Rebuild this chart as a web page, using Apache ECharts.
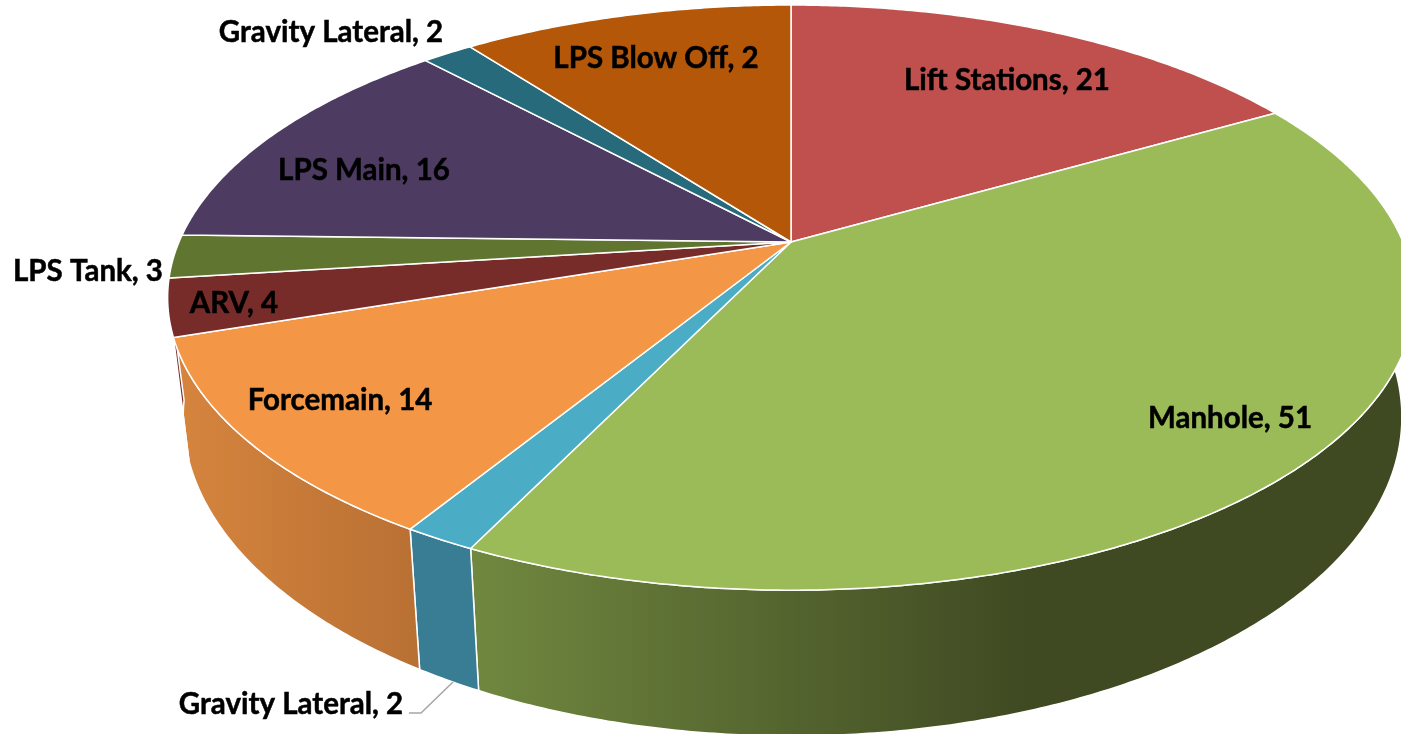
<!DOCTYPE html>
<html>
<head>
<meta charset="utf-8">
<style>
  html, body { margin: 0; padding: 0; background: #fff; }
  #chart { width: 1401px; height: 734px; }
</style>
<script src="https://cdn.jsdelivr.net/npm/echarts@6/dist/echarts.min.js"></script>
</head>
<body>
<div id="chart"></div>
<script>
  // going clockwise from 12 o'clock
  var categories = ['Lift Stations', 'Manhole', 'Gravity Lateral', 'Forcemain', 'ARV', 'LPS Tank', 'LPS Main', 'Gravity Lateral', 'LPS Blow Off'];
  // the number printed on each label
  var labelValues = [21, 51, 2, 14, 4, 3, 16, 2, 2];
  // size of each slice (the blow off slice is far bigger than its label says)
  var sliceValues = [21, 51, 2, 14, 4, 3, 16, 2, 13];

  var topColors = ['#c0504d', '#9bbb59', '#4bacc6', '#f39645', '#772c2a', '#5f7530', '#4d3b62', '#276a7c', '#b55708'];
  var wallColors = [
    ['#3f4922', '#3f4922'], ['#70883f', '#3f4922'], ['#397d94', '#397d94'], ['#d6853e', '#b87033'],
    ['#772c2a', '#772c2a'], null, null, null, null
  ];
  var labelAnchors = [[1007, 80], [1230, 418], [291, 704], [340, 400], [234, 303], [88, 271], [364, 170], [331, 32], [656, 58]];

  var total = sliceValues.reduce(function (a, b) { return a + b }, 0);

  // tilted disc: unit circle pushed through a simple perspective
  function project(deg, r, depth) {
    var a = deg * Math.PI / 180;
    var u = Math.sin(a) * r, v = -Math.cos(a) * r;
    var d = 1 - 0.19 * v;
    var x = 791 + 612 * u / d;
    var y = 242 + 282 * v / d;
    if (depth) {
      var dx = x < 791 ? (791 - x) * 0.025 : (791 - x) * 0.02;
      return [x + dx, y + 123 + (y - 337) * 0.09];
    }
    return [x, y];
  }

  function startDeg(i) {
    var sum = 0;
    for (var k = 0; k < i; k++) sum += sliceValues[k];
    return sum / total * 360;
  }

  function renderTop(params, api) {
    var i = params.dataIndex;
    var from = startDeg(i);
    var to = from + api.value(0) / total * 360;
    var pts = [project(0, 0, false)];
    for (var d = from; d < to; d += 0.5) pts.push(project(d, 1, false));
    pts.push(project(to, 1, false));
    return {
      type: 'group',
      children: [
        {
          type: 'polygon',
          shape: { points: pts },
          style: { fill: topColors[i], stroke: '#fff', lineWidth: 1.5, lineJoin: 'round' }
        },
        {
          type: 'text',
          z2: 100,
          style: {
            text: categories[i] + ', ' + labelValues[i],
            x: labelAnchors[i][0],
            y: labelAnchors[i][1],
            align: 'center',
            verticalAlign: 'middle',
            fill: '#000',
            stroke: '#000',
            lineWidth: 0.5,
            font: 'bold 29.5px Lato, Carlito, sans-serif'
          }
        }
      ]
    };
  }

  function renderWall(params, api) {
    var i = params.dataIndex;
    if (!wallColors[i]) return { type: 'group', children: [] };
    var from = Math.max(startDeg(i), 70);
    var to = Math.min(startDeg(i) + api.value(0) / total * 360, 262);
    if (to <= from) return { type: 'group', children: [] };
    var upper = [], lower = [];
    for (var d = from; d < to; d += 0.5) {
      upper.push(project(d, 1, false));
      lower.push(project(d, 1, true));
    }
    upper.push(project(to, 1, false));
    lower.push(project(to, 1, true));
    var xs = upper.concat(lower).map(function (p) { return p[0] });
    var left = Math.min.apply(null, xs), right = Math.max.apply(null, xs);
    // the manhole wall reaches its darkest tone well before its right end
    var x1 = i === 1 ? 1030 : right;
    var x0 = left < x1 ? Math.min(left, x1 - 1) : x1 - 1;
    return {
      type: 'polygon',
      shape: { points: upper.concat(lower.reverse()) },
      style: {
        fill: new echarts.graphic.LinearGradient(x0, 0, x1, 0, [
          { offset: 0, color: wallColors[i][0] },
          { offset: 1, color: wallColors[i][1] }
        ], true),
        stroke: '#fff',
        lineWidth: 1.5,
        lineJoin: 'round'
      }
    };
  }

  var chart = echarts.init(document.getElementById('chart'), null, { renderer: 'canvas' });
  chart.setOption({
    animation: false,
    backgroundColor: '#fff',
    series: [
      {
        type: 'custom',
        name: 'walls',
        coordinateSystem: 'none',
        silent: true,
        z: 1,
        renderItem: renderWall,
        data: sliceValues.map(function (v) { return [v] })
      },
      {
        type: 'custom',
        name: 'tops',
        coordinateSystem: 'none',
        silent: true,
        z: 2,
        renderItem: renderTop,
        data: sliceValues.map(function (v) { return [v] })
      }
    ],
    graphic: [{
      type: 'polyline',
      z: 5,
      shape: { points: [[409, 713], [421, 713], [453, 682]] },
      style: { stroke: '#a6a6a6', lineWidth: 1.5, fill: null }
    }]
  });
</script>
</body>
</html>
